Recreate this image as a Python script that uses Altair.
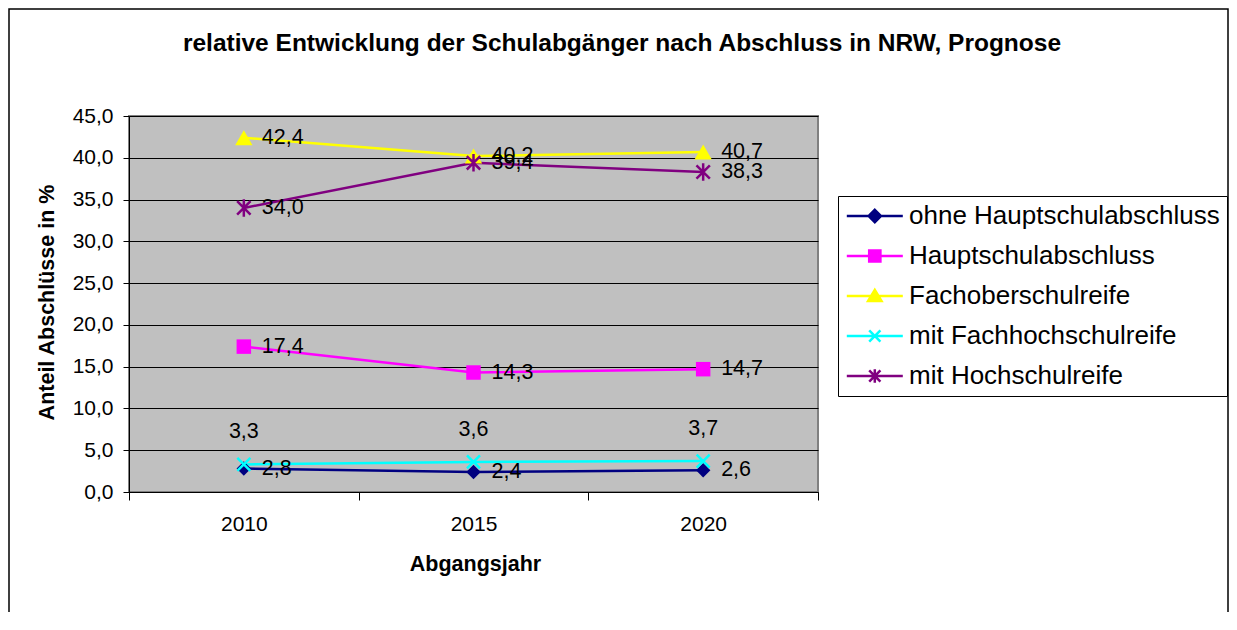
import altair as alt
import pandas as pd

jahre = ["2010", "2015", "2020"]
serien = ["ohne Hauptschulabschluss", "Hauptschulabschluss", "Fachoberschulreife",
          "mit Fachhochschulreife", "mit Hochschulreife"]
ohne = [2.8, 2.4, 2.6]
haupt = [17.4, 14.3, 14.7]
fachober = [42.4, 40.2, 40.7]
fachhoch = [3.3, 3.6, 3.7]
hochschul = [34.0, 39.4, 38.3]
farben = ["#000080", "#FF00FF", "#FFFF00", "#00FFFF", "#800080"]
y_ticks = [0, 5, 10, 15, 20, 25, 30, 35, 40, 45]
titel = "relative Entwicklung der Schulabgänger nach Abschluss in NRW, Prognose"

rows = []
for s, vals in zip(serien, [ohne, haupt, fachober, fachhoch, hochschul]):
    for j, v in zip(jahre, vals):
        rows.append({"Jahr": j, "Serie": s, "Wert": v})
df = pd.DataFrame(rows)

FONT = "Liberation Sans"

plot_shapes = ["diamond", "square", "triangle-up",
               "M-1,-1L1,1M-1,1L1,-1",
               "M-1,-1L1,1M-1,1L1,-1M0,-1.3L0,1.3"]
plot_sizes = [210, 210, 300, 170, 180]
plot_filled = [True, True, True, False, False]

legend_paths = [
    "M-1,0H4M1.5,-0.55L2.05,0L1.5,0.55L0.95,0Z",
    "M-1,0H4M1,-0.5H2V0.5H1Z",
    "M-1,0H4M1.5,-0.55L2.1,0.45H0.9Z",
    "M-1,0H4M1,-0.5L2,0.5M1,0.5L2,-0.5",
    "M-1,0H4M1,-0.5L2,0.5M1,0.5L2,-0.5M1.5,-0.6V0.6",
]

x_enc = alt.X(
    "Jahr:O",
    scale=alt.Scale(type="band", paddingInner=0, paddingOuter=0, domain=jahre),
    axis=alt.Axis(title="Abgangsjahr", labelAngle=0, tickBand="extent", tickSize=8,
                  labelPadding=13, grid=False, titleX=346, titleY=72,
                  titleBaseline="middle", titleAlign="center"),
)
y_enc = alt.Y(
    "Wert:Q",
    scale=alt.Scale(domain=[0, 45], nice=False, zero=True),
    axis=alt.Axis(values=y_ticks,
                  labelExpr="replace(format(datum.value, '.1f'), '.', ',')",
                  title="Anteil Abschlüsse in %", grid=True, tickSize=6, labelPadding=10,
                  titleX=-82, titleY=186, titleAngle=270, titleBaseline="middle",
                  titleAlign="center"),
)
# same mapping, listed in reverse so the (hidden) colour legend is not merged with the shown one
color_scale = alt.Scale(domain=serien[::-1], range=farben[::-1])
stroke_scale = alt.Scale(domain=serien, range=farben)
fill_scale = alt.Scale(domain=serien, range=farben)

base = alt.Chart(df)

layers = []
for s in serien:
    layers.append(
        base.transform_filter(alt.datum.Serie == s)
        .mark_line(strokeWidth=2.5)
        .encode(x=x_enc, y=y_enc,
                color=alt.Color("Serie:N", scale=color_scale, legend=None))
    )
for s, shp, sz, fl in zip(serien, plot_shapes, plot_sizes, plot_filled):
    layers.append(
        base.transform_filter(alt.datum.Serie == s)
        .mark_point(shape=shp, size=sz, filled=fl, opacity=1, strokeWidth=2.5)
        .encode(x=x_enc, y=y_enc,
                color=alt.Color("Serie:N", scale=color_scale, legend=None))
    )

leg = alt.Legend(orient="none", legendX=709, legendY=80, title=None,
                 labelFontSize=26, labelFont=FONT, labelColor="black",
                 symbolSize=502, symbolStrokeWidth=2.5, labelOffset=38,
                 padding=7, rowPadding=14, strokeColor="black", fillColor="white",
                 labelLimit=600, symbolOpacity=1)

layers.append(
    base.mark_point(filled=True, size=502, strokeWidth=2.5, opacity=1, clip=True)
    .encode(x=x_enc, y=y_enc, yOffset=alt.value(3000),
            fill=alt.Fill("Serie:N", scale=fill_scale, legend=leg),
            stroke=alt.Stroke("Serie:N", scale=stroke_scale, legend=leg),
            shape=alt.Shape("Serie:N", scale=alt.Scale(domain=serien, range=legend_paths),
                            legend=leg))
)

lab = base.transform_calculate(
    Label="replace(format(datum.Wert, '.1f'), '.', ',')"
)
layers.append(
    lab.transform_filter(alt.datum.Serie != "mit Fachhochschulreife")
    .mark_text(align="left", baseline="middle", dx=18, fontSize=21.5, font=FONT, color="black")
    .encode(x=x_enc, y=y_enc, text="Label:N")
)
layers.append(
    lab.transform_filter(alt.datum.Serie == "mit Fachhochschulreife")
    .mark_text(align="center", baseline="middle", dy=-32, fontSize=21.5, font=FONT, color="black")
    .encode(x=x_enc, y=y_enc, text="Label:N")
)

one = alt.Data(values=[{}])
layers.append(
    alt.Chart(one).mark_rect(fill="transparent", stroke="black", strokeWidth=1.5)
    .encode(x=alt.value(-120), x2=alt.value(1099), y=alt.value(-107), y2=alt.value(700))
)
layers.append(
    alt.Chart(one).mark_text(text=titel, fontSize=24.5, fontWeight="bold", font=FONT,
                             align="center", baseline="middle", color="black")
    .encode(x=alt.value(493), y=alt.value(-72))
)

chart = alt.layer(*layers).properties(
    width=689, height=376,
    autosize=alt.AutoSizeParams(type="none"),
    padding={"left": 121, "top": 108, "right": 411, "bottom": 120},
    background="white",
).configure_view(
    fill="#C0C0C0", stroke="#808080", strokeWidth=2
).configure_axis(
    labelFont=FONT, labelFontSize=21, labelColor="black",
    titleFont=FONT, titleFontSize=21.5, titleFontWeight="bold", titleColor="black",
    domainColor="black", tickColor="black", gridColor="black", gridWidth=1,
)

chart.save("out.html", embed_options={"renderer": "svg", "actions": False})
